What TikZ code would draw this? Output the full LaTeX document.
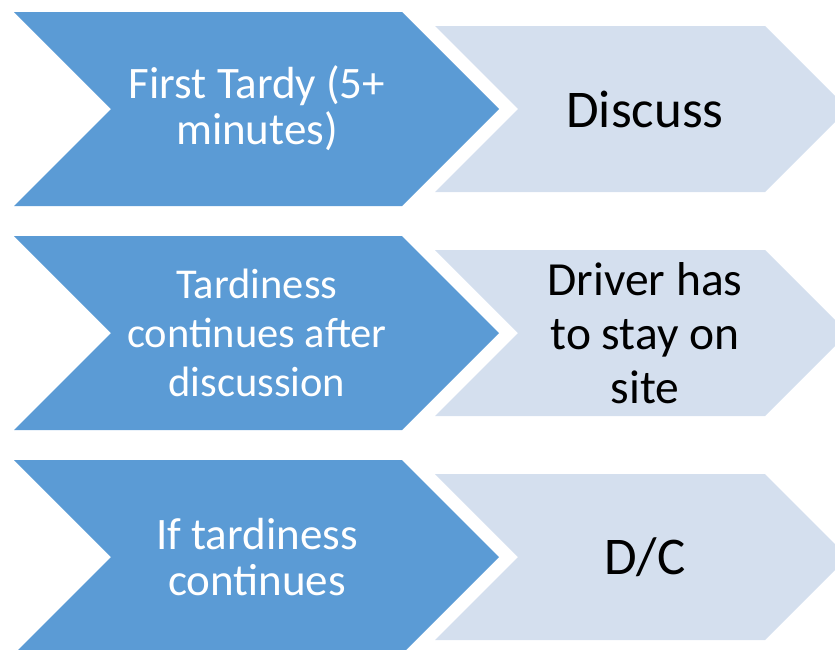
\documentclass[tikz,border=0pt]{standalone}
\usepackage{fontspec}
\setmainfont{Carlito}
\definecolor{chevdark}{HTML}{5B9BD5}
\definecolor{chevlight}{HTML}{D4DFEE}
\tikzset{
  darkchev/.style={fill=chevdark},
  lightchev/.style={fill=chevlight},
  darktext/.style={text=white, align=center, inner sep=0pt, font=\fontsize{45}{46}\selectfont},
  lighttext/.style={text=black, align=center, inner sep=0pt, font=\fontsize{47.5}{54}\selectfont},
  bigtext/.style={lighttext, font=\fontsize{53}{60}\selectfont}
}

\begin{document}
\begin{tikzpicture}[x=1pt,y=-1pt]
  \useasboundingbox (0,0) rectangle (835,649);
  \clip (0,0) rectangle (835,649);
  % chevron pairs, one per row
  \foreach \cy in {109,333,557} {
    \fill[darkchev] (14,\cy-97) -- (402,\cy-97) -- (499,\cy) -- (402,\cy+97)
      -- (14,\cy+97) -- (111,\cy) -- cycle;
    \fill[lightchev] (435,\cy-83) -- (765,\cy-83) -- (848,\cy) -- (765,\cy+83)
      -- (435,\cy+83) -- (518,\cy) -- cycle;
  }
  \node[darktext] (step1) at (257,108) {First Tardy (5+\\minutes)};
  \node[bigtext] (act1) at (645,109) {Discuss};
  \node[darktext, font=\fontsize{42.5}{49}\selectfont] (step2) at (257,333)
    {Tardiness\\continues after\\discussion};
  \node[lighttext] (act2) at (645,333) {Driver has\\to stay on\\site};
  \node[darktext] (step3) at (257,557) {If tardiness\\continues};
  \node[bigtext] (act3) at (645,557) {D/C};
\end{tikzpicture}
\end{document}
